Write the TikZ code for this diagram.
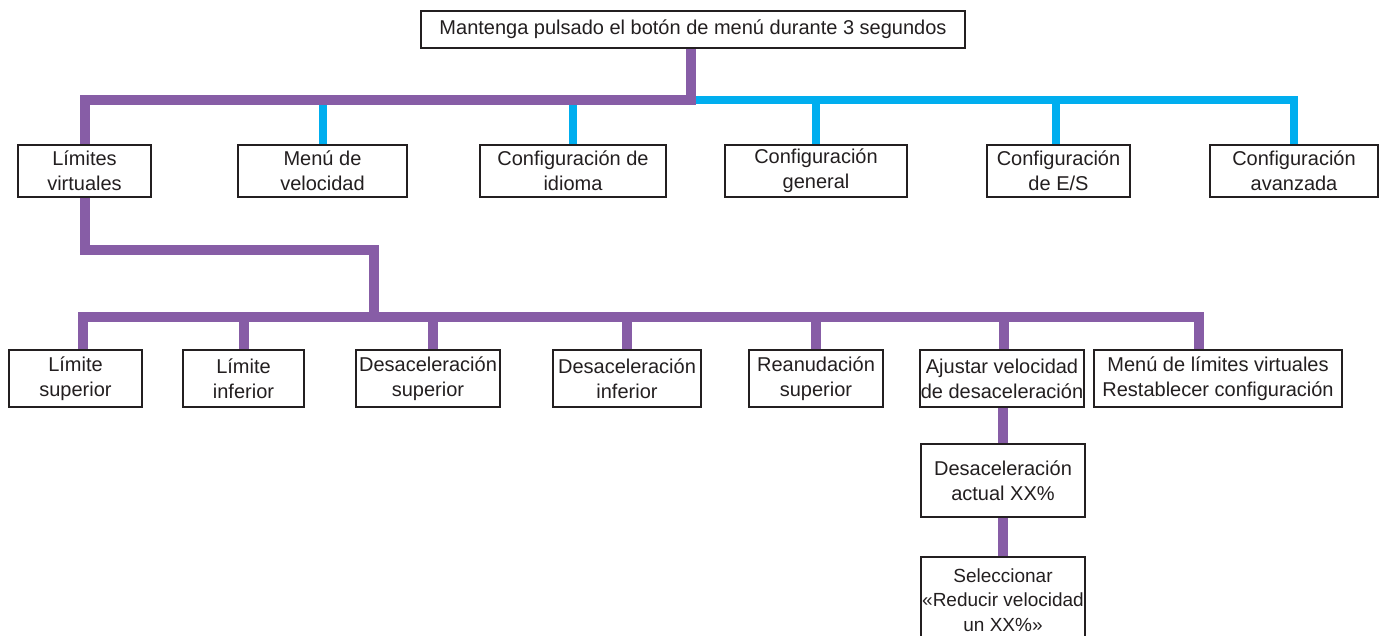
\documentclass[tikz,border=0pt]{standalone}
\usepackage{fontspec}
\setmainfont{Liberation Sans}
\definecolor{purp}{HTML}{875DA6}
\definecolor{cyanb}{HTML}{00AEEF}
\definecolor{ink}{HTML}{231F20}
\begin{document}
\begin{tikzpicture}[x=1pt,y=-1pt,
  box/.style={draw=ink,line width=2.5pt,fill=white,rectangle,inner sep=0pt,
    align=center,text=ink,font=\fontsize{20}{25}\selectfont},
  pline/.style={draw=purp,line width=10pt,line join=miter},
  bline/.style={draw=cyanb,line width=8pt,line join=miter}]
\useasboundingbox (0,0) rectangle (1382,635);
\clip (0,0) rectangle (1382,635);
% bus coordinates
\coordinate (bus1) at (691,100);
\coordinate (k) at (374,250);
\coordinate (bus2) at (374,317);
% top
\node[box,minimum width=544,minimum height=37] (top) at (693,29.5) {Mantenga pulsado el botón de menú durante 3 segundos};
% level 1
\node[box,minimum width=133,minimum height=52] (lim) at (84.5,171) {Límites\\virtuales};
\node[box,minimum width=169,minimum height=52] (vel) at (322.5,171) {Menú de\\velocidad};
\node[box,minimum width=186,minimum height=52] (idi) at (573,171) {Configuración de\\idioma};
\node[box,minimum width=182,minimum height=52] (gen) at (816,171) {Configuración\\general};
\node[box,minimum width=143,minimum height=52] (es) at (1058.5,171) {Configuración\\de E/S};
\node[box,minimum width=168,minimum height=52] (ava) at (1294,171) {Configuración\\avanzada};
% level 2
\node[box,minimum width=133,minimum height=57] (ls) at (75.5,378.5) {Límite\\superior};
\node[box,minimum width=121,minimum height=57] (li) at (243.5,378.5) {Límite\\inferior};
\node[box,minimum width=144,minimum height=57] (ds) at (428,378.5) {Desaceleración\\superior};
\node[box,minimum width=148,minimum height=57] (di) at (627,378.5) {Desaceleración\\inferior};
\node[box,minimum width=134,minimum height=57] (rs) at (816,378.5) {Reanudación\\superior};
\node[box,minimum width=164,minimum height=57] (aj) at (1002,378.5) {Ajustar velocidad\\de desaceleración};
\node[box,minimum width=248,minimum height=57] (mr) at (1218,378.5) {Menú de límites virtuales\\Restablecer configuración};
% level 3
\node[box,minimum width=164,minimum height=73] (cur) at (1003,480.5) {Desaceleración\\actual XX\%};
\node[box,minimum width=164,minimum height=86,font=\fontsize{19}{24.5}\selectfont] (sel) at (1003,600) {Seleccionar\\«Reducir velocidad\\un XX\%»};
% blue bus
\draw[bline] (bus1) -| (ava.north);
\draw[bline] (vel.north |- bus1) -- (vel.north);
\draw[bline] (idi.north |- bus1) -- (idi.north);
\draw[bline] (gen.north |- bus1) -- (gen.north);
\draw[bline] ([xshift=-2.5pt]es.north |- bus1) -- ([xshift=-2.5pt]es.north);
% purple first level
\draw[pline] (top.south -| bus1) -- (bus1) -| (lim.north);
% purple second level
\draw[pline] (lim.south) |- (k) -- (bus2) -| ([xshift=7.5pt]ls.north);
\draw[pline] (bus2) -| ([xshift=-19pt]mr.north);
\draw[pline] (li.north |- bus2) -- (li.north);
\draw[pline] ([xshift=5pt]ds.north |- bus2) -- ([xshift=5pt]ds.north);
\draw[pline] (di.north |- bus2) -- (di.north);
\draw[pline] (rs.north |- bus2) -- (rs.north);
\draw[pline] ([xshift=2pt]aj.north |- bus2) -- ([xshift=2pt]aj.north);
% purple third level
\draw[pline] (cur.north |- aj.south) -- (cur.north);
\draw[pline] (cur.south) -- (sel.north);
\end{tikzpicture}
\end{document}
